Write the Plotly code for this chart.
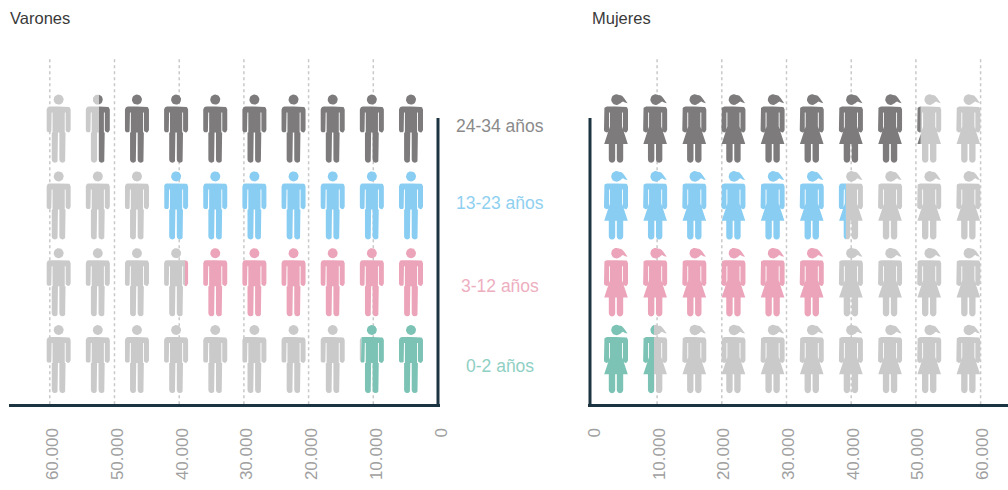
import math
import plotly.graph_objects as go

# rows go bottom to top
age_groups = ["0-2 años", "3-12 años", "13-23 años", "24-34 años"]
varones = [11900, 39100, 42300, 52400]
mujeres = [9520, 35950, 39190, 50740]
tick_vals = [0, 10000, 20000, 30000, 40000, 50000, 60000]
tick_text = ["0", "10.000", "20.000", "30.000", "40.000", "50.000", "60.000"]

row_colors = ["#7cc3b5", "#eba4b9", "#89cdf2", "#7d7b7c"]
label_colors = ["#8fd0c4", "#edaec0", "#8fd0f0", "#8a8a8a"]
label_shift = [-6, -3, 3, 3]
EMPTY = "#cacaca"
NAVY = "#1c3341"

W, H = 1008, 490


def paper_x(px):
    return px / W


def paper_y(px):
    return 1 - px / H


# pixel layout of the two panels
L_LEFT, L_ZERO, L_SCALE = 9, 438, 64.7 / 10000
R_ZERO, R_RIGHT, R_SCALE = 592.4, 1008, 64.7 / 10000
L_LINE, R_LINE = 438, 590  # where the vertical axes stand
BASE, TOP = 404.3, 57
ROW0, ROW_H = 359.5, 76.8
y_min = -(BASE - ROW0) / ROW_H
y_max = (ROW0 - TOP) / ROW_H
y_axis_top = (ROW0 - 118) / ROW_H

N_ICONS = 10
L_FIRST, R_FIRST, STEP = 27, 23.6, 39.15


def arc(cx, cy, r, a0, a1, n=6):
    return [(cx + r * math.cos(math.radians(a0 + (a1 - a0) * i / n)),
             cy + r * math.sin(math.radians(a0 + (a1 - a0) * i / n))) for i in range(n + 1)]


def mirror(half):
    return half + [(-x, y) for x, y in reversed(half)]


# icon outlines in px around the head centre, y downwards
head = arc(0, 0, 5, 0, 360, 24)
man = mirror([(0, 7)] + arc(9, 10, 3, -90, 0) + arc(9.5, 30.4, 2.5, 0, 180)
             + [(7, 13), (6.1, 13), (6.1, 33), (6.9, 33)]
             + arc(3.8, 60, 3.1, 0, 180) + [(0.7, 33), (0, 33)])
woman = mirror([(0, 7)] + arc(9, 10, 3, -90, 0) + arc(9.5, 30.4, 2.5, 0, 180)
               + [(7, 13), (6.1, 13), (6.1, 27), (11.8, 44.3), (7.2, 44.3)]
               + arc(4, 60, 3.2, 0, 180) + [(0.8, 44.3), (0, 44.3)])
woman_head = [(x + 0.5, y) for x, y in arc(0, 0, 5.3, 0, 360, 24)]
ponytail = [(3.8, -4.6), (6, -3.8), (8, -1.6), (9.8, 1.4), (11.6, 3.6), (9, 3), (7, 1.8), (5.6, 2.6), (4.2, 4)]

man_parts = [head, man]
woman_parts = [woman_head, ponytail, woman]


def clip(poly, limit, keep_low):
    # cut a polygon at a vertical line
    out = []
    inside = (lambda p: p[0] <= limit) if keep_low else (lambda p: p[0] >= limit)
    for i, p in enumerate(poly):
        q = poly[(i + 1) % len(poly)]
        if inside(p):
            out.append(p)
        if inside(p) != inside(q):
            t = (limit - p[0]) / (q[0] - p[0])
            out.append((limit, p[1] + t * (q[1] - p[1])))
    return out


def pictogram(values, parts, first_px, scale, flip):
    # px offsets go to axis units here, so the value cut lands in axis units too
    traces = []
    for row, value in enumerate(values):
        on_x, on_y, off_x, off_y = [], [], [], []
        for i in range(N_ICONS):
            centre = (first_px + STEP * i) / scale
            for part in parts:
                poly = [(centre + x / scale * flip, row - (y - 29.5) / ROW_H) for x, y in part]
                for keep_low, xs, ys in ((True, on_x, on_y), (False, off_x, off_y)):
                    piece = clip(poly, value, keep_low)
                    if piece:
                        piece = piece + [piece[0]]
                        xs.extend([p[0] for p in piece] + [None])
                        ys.extend([p[1] for p in piece] + [None])
        traces.append((off_x, off_y, EMPTY))
        traces.append((on_x, on_y, row_colors[row]))
    return traces


fig = go.Figure()

for axis, traces in (("x", pictogram(varones, man_parts, L_FIRST, L_SCALE, -1)),
                     ("x2", pictogram(mujeres, woman_parts, R_FIRST, R_SCALE, 1))):
    for xs, ys, color in traces:
        fig.add_trace(go.Scatter(x=xs, y=ys, xaxis=axis, yaxis="y", mode="lines", fill="toself",
                                 fillcolor=color, line=dict(width=0), hoverinfo="skip", showlegend=False))

# dotted grid and the short vertical axes
for axis, line_at in (("x", (L_ZERO - L_LINE) / L_SCALE), ("x2", (R_LINE - R_ZERO) / R_SCALE)):
    for v in tick_vals[1:]:
        fig.add_shape(type="line", xref=axis, yref="y", x0=v, x1=v, y0=y_min, y1=y_max, layer="below",
                      line=dict(color="#c8c8c8", width=1.5, dash="3px,3px"))
    fig.add_shape(type="line", xref=axis, yref="y", x0=line_at, x1=line_at, y0=y_min, y1=y_axis_top,
                  line=dict(color=NAVY, width=3))

tick_style = dict(tickmode="array", tickvals=tick_vals, ticktext=tick_text, tickangle=-90,
                  tickfont=dict(family="Liberation Sans", size=17, color="#a0a0a0"),
                  showgrid=False, zeroline=False, showline=True, linewidth=3, linecolor=NAVY,
                  ticks="", ticklabelstandoff=14)

annotations = [dict(text=label, x=paper_x(500), xref="paper", xanchor="center", y=i, yref="y", yshift=label_shift[i],
                    showarrow=False, font=dict(family="Liberation Sans", size=17.5, color=label_colors[i]))
               for i, label in enumerate(age_groups)]
for title, px in (("Varones", 7.5), ("Mujeres", 589.5)):
    annotations.append(dict(text=title, x=paper_x(px), xref="paper", xanchor="left", y=paper_y(18), yref="paper",
                            yanchor="middle", showarrow=False,
                            font=dict(family="Liberation Sans", size=16.5, color="#3a3a3a")))

fig.update_layout(
    width=W, height=H, autosize=False, margin=dict(l=0, r=0, t=0, b=0, autoexpand=False),
    paper_bgcolor="white", plot_bgcolor="white", annotations=annotations,
    xaxis=dict(domain=[paper_x(L_LEFT), paper_x(L_ZERO + 2)], ticklabelshift=-3,
               range=[(L_ZERO - L_LEFT) / L_SCALE, -2 / L_SCALE], anchor="y", **tick_style),
    xaxis2=dict(domain=[paper_x(R_LINE - 2), paper_x(R_RIGHT)], ticklabelshift=2,
                range=[(R_LINE - 2 - R_ZERO) / R_SCALE, (R_RIGHT - R_ZERO) / R_SCALE], anchor="y", **tick_style),
    yaxis=dict(domain=[paper_y(BASE), paper_y(TOP)], range=[y_min, y_max], visible=False),
)

fig.write_html("out.html", config={"displayModeBar": False},
               post_script="document.body.style.margin='0';")
